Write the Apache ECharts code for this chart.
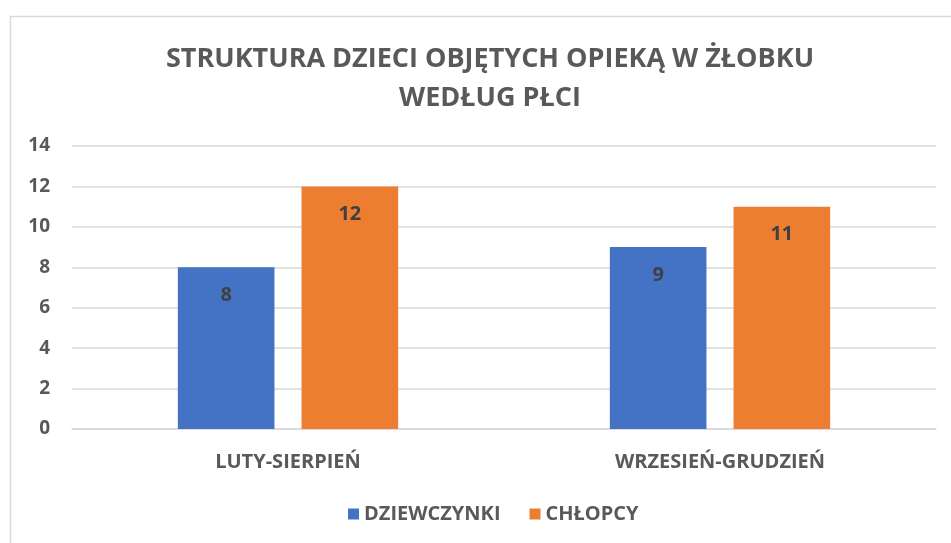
<!DOCTYPE html>
<html><head><meta charset="utf-8">
<script src="https://cdn.jsdelivr.net/npm/echarts@6/dist/echarts.min.js"></script>
<style>html,body{margin:0;padding:0;background:#fff}#c{width:951px;height:543px}</style>
</head><body><div id="c"></div>
<script>
const categories = ['LUTY-SIERPIEŃ', 'WRZESIEŃ-GRUDZIEŃ'];
const seriesNames = ['DZIEWCZYNKI', 'CHŁOPCY'];
const girls = [8, 9];
const boys = [12, 11];
const font = '"Open Sans",sans-serif';
const chart = echarts.init(document.getElementById('c'));
const lbl = {show: true, position: 'insideTop', distance: 18, color: '#404040', fontWeight: 'bold', fontSize: 20, fontFamily: font};
chart.setOption({
  animation: false,
  graphic: [{type: 'rect', left: 8, top: 14, shape: {width: 1000, height: 600}, style: {fill: 'none', stroke: '#d9d9d9', lineWidth: 1.5}, silent: true}],
  title: {
    text: 'STRUKTURA DZIECI OBJĘTYCH OPIEKĄ W ŻŁOBKU\nWEDŁUG PŁCI',
    left: 485, textAlign: 'center', top: 35,
    textStyle: {color: '#595959', fontSize: 27, fontWeight: 'bold', fontFamily: font, lineHeight: 39}
  },
  legend: {
    data: seriesNames, top: 499, left: 343, itemWidth: 11, itemHeight: 11, itemGap: 29, icon: 'rect',
    textStyle: {color: '#595959', fontSize: 20, fontWeight: 'bold', fontFamily: font}
  },
  grid: {left: 72, right: 15, top: 146, bottom: 114},
  xAxis: {
    type: 'category', data: categories,
    axisLine: {lineStyle: {color: '#d9d9d9', width: 1.5}}, axisTick: {show: false},
    axisLabel: {color: '#595959', fontSize: 20, fontWeight: 'bold', fontFamily: font, margin: 23}
  },
  yAxis: {
    type: 'value', min: 0, max: 14, interval: 2,
    axisLine: {show: false}, axisTick: {show: false},
    splitLine: {lineStyle: {color: '#d9d9d9', width: 1.5}},
    axisLabel: {color: '#595959', fontSize: 19, fontWeight: 'bold', fontFamily: font, margin: 22}
  },
  series: [
    {name: seriesNames[0], type: 'bar', data: girls, barGap: '28%', barCategoryGap: '49%', itemStyle: {color: '#4472C4'}, label: lbl},
    {name: seriesNames[1], type: 'bar', data: boys, itemStyle: {color: '#ED7D31'}, label: lbl}
  ]
});
</script></body></html>
